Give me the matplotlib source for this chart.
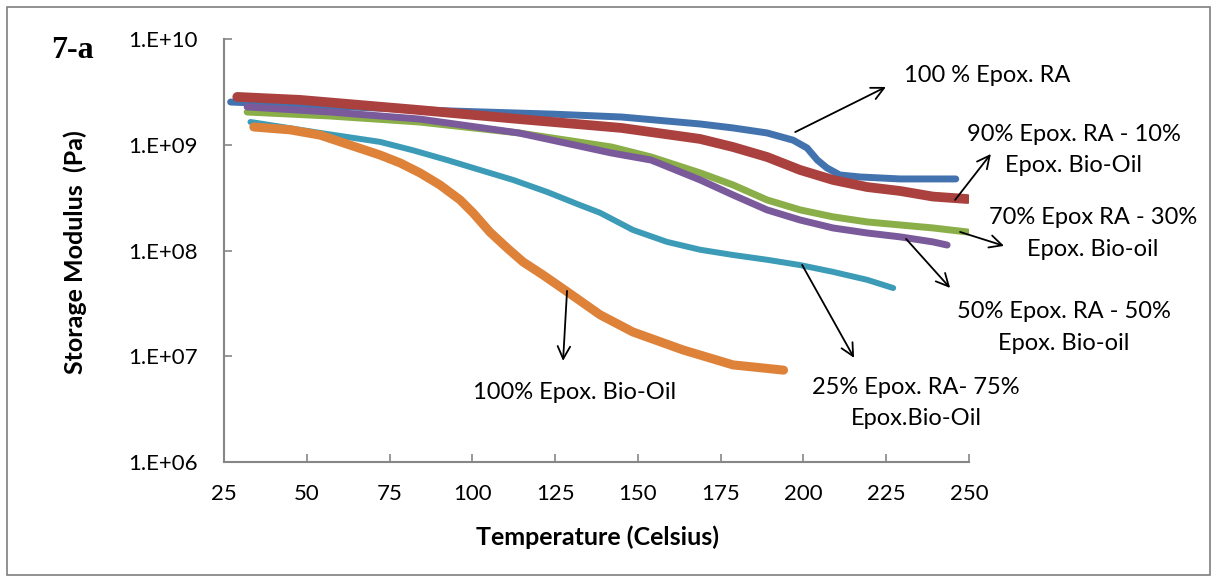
import matplotlib
matplotlib.use("Agg")
import matplotlib.pyplot as plt
from matplotlib.patches import Rectangle

# Storage modulus (Pa) versus temperature (Celsius) for each blend
t_ra100 = [27, 48, 93, 124, 145, 168.8, 178.7, 189.0, 196.9, 201.1, 204.2,
           207.1, 211.0, 217.1, 229.2, 246]
e_ra100 = [2.55e9, 2.39e9, 2.10e9, 1.96e9, 1.84e9, 1.58e9, 1.45e9, 1.30e9,
           1.11e9, 9.36e8, 7.2e8, 6.06e8, 5.2e8, 4.98e8, 4.77e8, 4.77e8]

t_ra90 = [29, 48, 84, 114, 145, 168.8, 178.7, 189.0, 199.0, 208.9, 219.2,
          229.2, 239.1, 249.5]
e_ra90 = [2.85e9, 2.67e9, 2.14e9, 1.76e9, 1.45e9, 1.14e9, 9.57e8, 7.7e8,
          5.8e8, 4.67e8, 4.0e8, 3.67e8, 3.25e8, 3.08e8]

t_ra70 = [32, 57, 84, 114, 142, 154, 168.8, 178.7, 189.0, 199.0, 208.9,
          219.2, 229.2, 239.1, 249.7]
e_ra70 = [2.05e9, 1.88e9, 1.65e9, 1.30e9, 9.57e8, 7.7e8, 5.44e8, 4.19e8,
          3.02e8, 2.43e8, 2.09e8, 1.87e8, 1.75e8, 1.64e8, 1.50e8]

t_ra50 = [32, 57, 84, 114, 142, 154, 168.8, 178.7, 189.0, 199.0, 208.9,
          219.2, 229.2, 239.1, 243.4]
e_ra50 = [2.29e9, 2.05e9, 1.76e9, 1.30e9, 8.4e8, 7.2e8, 4.67e8, 3.37e8,
          2.43e8, 1.95e8, 1.64e8, 1.47e8, 1.35e8, 1.21e8, 1.13e8]

t_ra25 = [33, 54, 72.1, 82.1, 92.4, 102.3, 112.3, 122.6, 132.5, 138.6, 148.5,
          158.8, 168.8, 178.7, 189.0, 199.0, 208.9, 219.2, 227.1]
e_ra25 = [1.65e9, 1.30e9, 1.07e9, 8.9e8, 7.2e8, 5.8e8, 4.67e8, 3.59e8, 2.7e8,
          2.28e8, 1.57e8, 1.21e8, 1.02e8, 9.1e7, 8.2e7, 7.3e7, 6.3e7, 5.3e7, 4.43e7]

t_bio100 = [34, 45, 54, 72.1, 78.2, 84.2, 90.2, 96.3, 100.2, 105.3, 110.5,
            115.3, 121.3, 128.6, 138.6, 148.5, 163.6, 178.7, 194]
e_bio100 = [1.48e9, 1.39e9, 1.24e9, 8.04e8, 6.76e8, 5.44e8, 4.19e8, 3.02e8,
            2.28e8, 1.50e8, 1.06e8, 7.83e7, 5.9e7, 4.1e7, 2.47e7, 1.70e7,
            1.15e7, 8.3e6, 7.4e6]

x_ticks = [25, 50, 75, 100, 125, 150, 175, 200, 225, 250]
y_ticks = [1e6, 1e7, 1e8, 1e9, 1e10]
y_tick_labels = ["1.E+06", "1.E+07", "1.E+08", "1.E+09", "1.E+10"]

series = [
    (t_ra100, e_ra100, "#4373AE", 5.0),
    (t_ra90, e_ra90, "#AA413F", 7.0),
    (t_ra70, e_ra70, "#8AAE48", 5.0),
    (t_ra50, e_ra50, "#7A5A9B", 5.0),
    (t_ra25, e_ra25, "#3C9BB6", 4.3),
    (t_bio100, e_bio100, "#DE823A", 6.5),
]

font = "Lato"
W, H = 1214, 579
fig = plt.figure(figsize=(W / 100, H / 100), dpi=100)
ax = fig.add_axes([224 / W, 1 - 462 / H, (969 - 224) / W, (462 - 39.3) / H])

for t, e, c, lw in series:
    ax.plot(t, e, color=c, lw=lw, solid_capstyle="round", solid_joinstyle="round")

ax.set_yscale("log")
ax.set_xlim(25, 250)
ax.set_ylim(1e6, 1e10)
ax.set_xticks(x_ticks)
ax.set_xticklabels([str(v) for v in x_ticks], fontfamily=font, fontsize=16)
ax.set_yticks(y_ticks)
ax.set_yticklabels(y_tick_labels, fontfamily=font, fontsize=16)
ax.yaxis.set_minor_locator(matplotlib.ticker.NullLocator())
ax.tick_params(axis="both", direction="in", length=6, width=1.2, color="#868686")
ax.tick_params(axis="y", pad=19)
ax.tick_params(axis="x", pad=16)
for side in ("top", "right"):
    ax.spines[side].set_visible(False)
for side in ("left", "bottom"):
    ax.spines[side].set_color("#868686")
    ax.spines[side].set_linewidth(1.5)

fig.text(597 / W, 1 - 537 / H, "Temperature (Celsius)", ha="center", va="center",
         fontfamily=font, fontweight="bold", fontsize=18)
fig.text(75 / W, 1 - 252 / H, "Storage Modulus  (Pa)", ha="center", va="center",
         rotation=90, fontfamily=font, fontweight="bold", fontsize=18)
fig.text(72 / W, 1 - 50 / H, "7-a", ha="center", va="center",
         fontfamily="Liberation Serif", fontweight="bold", fontsize=23)

# Labels with arrows pointing to each curve
notes = [
    ("100 % Epox. RA", (197.5, 10 ** 9.122), (224.9, 10 ** 9.549), (255.5, 10 ** 9.662)),
    ("90% Epox. RA - 10%\nEpox. Bio-Oil", (245.8, 10 ** 8.480), (256.6, 10 ** 8.915), (281.7, 10 ** 8.952)),
    ("70% Epox RA - 30%\nEpox. Bio-oil", (247.3, 10 ** 8.177), (260.6, 10 ** 8.045), (287.5, 10 ** 8.163)),
    ("50% Epox. RA - 50%\nEpox. Bio-oil", (231.0, 10 ** 8.111), (244.3, 10 ** 7.647), (278.7, 10 ** 7.273)),
    ("25% Epox. RA- 75%\nEpox.Bio-Oil", (199.6, 10 ** 7.865), (215.3, 10 ** 6.985), (234.0, 10 ** 6.559)),
    ("100% Epox. Bio-Oil", (128.6, 10 ** 7.619), (127.4, 10 ** 6.957), (131.0, 10 ** 6.654)),
]
for text, tail, head, pos in notes:
    ax.annotate("", xy=head, xytext=tail, annotation_clip=False,
                arrowprops=dict(arrowstyle="->,head_length=0.9,head_width=0.45",
                                color="black", lw=1.3, shrinkA=0, shrinkB=0))
    ax.text(pos[0], pos[1], text, ha="center", va="center", fontfamily=font,
            fontsize=17, linespacing=1.6, clip_on=False)

fig.add_artist(Rectangle((7 / W, 4 / H), (1210 - 7) / W, (572 - 4) / H,
                         transform=fig.transFigure, fill=False,
                         edgecolor="#7F7F7F", lw=1.2))

fig.savefig("out.png", dpi=100, facecolor="white")
